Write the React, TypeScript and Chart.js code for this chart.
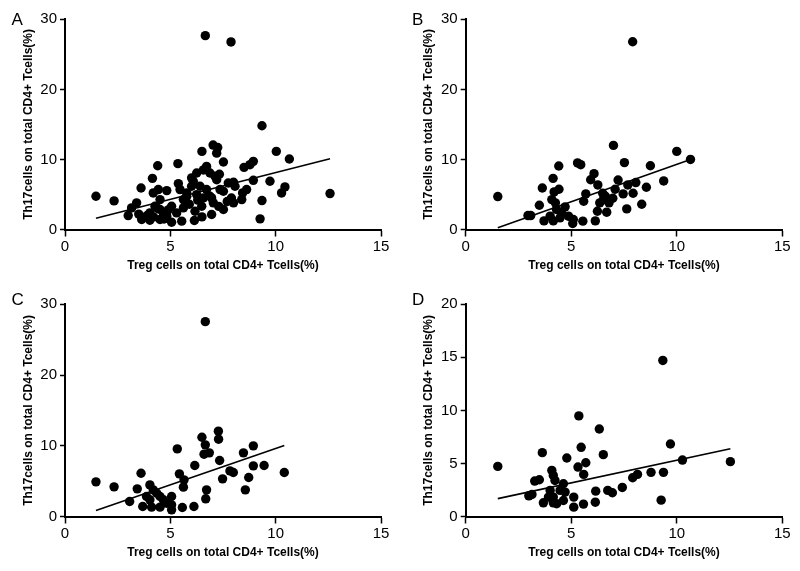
import React, { useEffect, useRef } from "react";
import { Chart, registerables } from "chart.js";

Chart.register(...registerables);

// ---------- data (Treg % on x, Th17 % on y) ----------
const tregA = [1.47, 2.33, 6.66, 7.88, 9.35, 7.03, 7.25, 6.5, 7.2, 10.03, 10.65, 4.4, 5.36, 7.52, 8.94, 8.78, 8.5, 6.72, 6.57, 6.25, 6.01, 4.15, 7.33, 7.2, 8.0, 8.94, 9.73, 3.61, 5.38, 5.46, 4.43, 4.83, 4.19, 6.41, 6.72, 7.52, 7.75, 8.07, 8.62, 10.44, 10.28, 12.58, 9.35, 9.26, 3.4, 3.16, 3.0, 4.51, 5.06, 5.62, 5.78, 6.25, 6.57, 6.88, 7.04, 6.49, 6.17, 6.96, 7.52, 8.0, 8.39, 8.43, 4.03, 4.51, 3.64, 4.03, 4.51, 4.83, 5.06, 5.54, 6.14, 4.27, 4.67, 5.3, 5.62, 6.96, 6.01, 6.09, 5.78, 7.36, 6.88, 7.12, 4.2, 4.7, 4.4, 3.9, 4.9, 3.5, 6.5, 7.3, 7.7, 7.9, 6.3, 5.9];
const th17A = [4.75, 4.08, 27.67, 26.77, 14.8, 12.05, 11.7, 11.15, 10.9, 11.15, 10.06, 9.1, 9.4, 9.63, 9.73, 9.25, 8.87, 9.0, 8.5, 8.07, 7.36, 7.3, 7.88, 7.1, 6.74, 7.02, 6.88, 5.93, 6.55, 5.7, 5.7, 5.55, 5.22, 6.17, 5.7, 5.46, 6.64, 6.17, 5.7, 6.08, 5.22, 5.13, 4.13, 1.52, 3.8, 3.08, 1.99, 4.27, 3.32, 4.27, 4.75, 4.98, 4.51, 4.75, 3.8, 3.32, 2.61, 2.14, 2.85, 3.8, 4.27, 5.22, 2.37, 2.85, 1.42, 1.33, 1.42, 1.9, 1.04, 1.19, 1.28, 3.32, 2.37, 2.37, 3.08, 4.51, 6.17, 6.88, 5.22, 5.7, 8.07, 7.6, 1.8, 1.5, 3.0, 2.0, 2.8, 2.2, 1.8, 3.3, 4.0, 4.5, 4.2, 3.6];

const tregB = [1.52, 7.91, 7.0, 10.0, 10.65, 4.41, 5.3, 5.45, 7.52, 8.75, 4.14, 6.08, 5.92, 6.26, 7.22, 8.06, 9.38, 3.63, 4.42, 4.19, 8.56, 7.68, 5.69, 5.59, 6.49, 7.08, 7.46, 7.93, 4.08, 4.25, 3.49, 3.08, 2.95, 3.71, 4.15, 4.55, 4.71, 4.47, 5.1, 5.07, 5.55, 6.14, 6.24, 6.68, 6.35, 6.79, 6.97, 7.63, 8.34, 6.62, 6.52, 4.87, 4.0, 4.3];
const th17B = [4.7, 26.8, 12.0, 11.15, 10.0, 9.06, 9.5, 9.25, 9.55, 9.1, 7.3, 7.97, 7.1, 6.36, 7.07, 6.7, 6.93, 5.93, 5.74, 5.36, 6.03, 6.36, 5.08, 4.03, 5.17, 5.74, 5.08, 5.17, 4.27, 3.8, 3.46, 1.99, 1.99, 1.23, 1.23, 2.37, 3.23, 1.66, 1.42, 0.85, 1.19, 1.23, 2.61, 2.47, 3.8, 3.8, 4.46, 2.94, 3.61, 4.75, 4.27, 1.9, 1.9, 2.85];

const tregC = [1.47, 2.33, 6.66, 7.28, 7.29, 6.5, 6.66, 5.33, 8.94, 8.47, 6.6, 6.85, 7.34, 6.16, 8.94, 9.45, 10.41, 3.61, 5.43, 7.83, 7.99, 7.48, 8.72, 5.65, 5.62, 3.43, 4.03, 8.56, 6.72, 6.68, 3.07, 4.19, 4.51, 4.35, 4.67, 5.06, 5.06, 4.03, 3.69, 4.11, 4.51, 5.57, 6.12, 5.06, 3.87, 4.83];
const th17C = [4.9, 4.19, 27.55, 12.06, 10.93, 11.2, 10.13, 9.56, 9.99, 9.0, 8.81, 9.0, 7.91, 7.21, 7.16, 7.21, 6.22, 6.12, 6.03, 6.45, 6.22, 5.32, 5.51, 5.18, 4.15, 3.91, 4.47, 3.77, 3.77, 2.5, 2.12, 3.77, 2.83, 3.3, 2.36, 2.83, 1.65, 2.36, 1.41, 1.32, 1.32, 1.27, 1.41, 0.94, 2.83, 1.88];

const tregD = [1.52, 9.34, 5.36, 6.33, 9.7, 5.47, 3.63, 4.79, 6.52, 5.69, 5.32, 5.59, 10.27, 12.54, 9.37, 8.78, 8.14, 7.91, 7.42, 6.95, 6.73, 6.16, 6.14, 5.58, 5.12, 5.12, 9.26, 3.27, 3.49, 2.99, 3.14, 3.68, 4.08, 4.15, 4.23, 4.63, 4.47, 4.0, 4.15, 4.15, 4.63, 4.71, 3.92, 4.31];
const th17D = [4.72, 14.71, 9.48, 8.25, 6.83, 6.52, 6.02, 5.51, 5.83, 5.07, 4.66, 3.97, 5.32, 5.17, 4.16, 4.16, 3.97, 3.65, 2.74, 2.24, 2.46, 2.39, 1.35, 1.17, 0.88, 1.83, 1.54, 3.34, 3.46, 1.95, 2.08, 1.29, 4.35, 3.87, 3.4, 3.09, 2.46, 2.46, 1.83, 1.29, 1.51, 2.3, 1.83, 1.2];

// regression lines (slope, intercept)
const fitA = [0.764, 0.49];
const fitB = [1.068, -1.38];
const fitC = [1.027, -0.66];
const fitD = [0.4256, 1.04];

const xTitle = "Treg cells on total CD4+ Tcells(%)";
const yTitle = "Th17cells on total CD4+ Tcells(%)";
const xTicks = [0, 5, 10, 15];
const yTicks30 = [0, 10, 20, 30];
const yTicks20 = [0, 5, 10, 15, 20];

type Box = { left: number; top: number; width: number; height: number };
type Plot = { left: number; top: number; right: number; bottom: number };

const FONT = "'Liberation Sans', Arial, sans-serif";

function Panel(props: {
  letter: string;
  treg: number[];
  th17: number[];
  fit: number[];
  yTicks: number[];
  box: Box;
  plot: Plot;
  letterPos: [number, number];
  xTitlePad: number;
}) {
  const ref = useRef<HTMLCanvasElement>(null);
  useEffect(() => {
    const { letter, treg, th17, fit, yTicks, box, plot, letterPos, xTitlePad } = props;
    const pts = treg.map((x, i) => ({ x, y: th17[i] }));
    const xmin = Math.min(...treg);
    const xmax = Math.max(...treg);
    const line = [
      { x: xmin, y: fit[0] * xmin + fit[1] },
      { x: xmax, y: fit[0] * xmax + fit[1] },
    ];
    const letterPlugin = {
      id: "panelLetter" + letter,
      afterDraw(chart: any) {
        const ctx = chart.ctx;
        ctx.save();
        ctx.fillStyle = "#000";
        ctx.font = `17px ${FONT}`;
        ctx.textBaseline = "alphabetic";
        ctx.textAlign = "left";
        ctx.fillText(letter, letterPos[0] - box.left, letterPos[1] - box.top);
        ctx.restore();
      },
    };
    const yStep = yTicks[1] - yTicks[0];
    const chart = new Chart(ref.current as HTMLCanvasElement, {
      type: "scatter",
      data: {
        datasets: [
          {
            type: "line",
            data: line,
            borderColor: "#000",
            borderWidth: 1.6,
            pointRadius: 0,
            fill: false,
            order: 0,
          } as any,
          {
            data: pts,
            pointRadius: 4.7,
            pointHoverRadius: 4.7,
            backgroundColor: "#000",
            borderColor: "#000",
            borderWidth: 0,
            order: 1,
          },
        ],
      },
      options: {
        responsive: false,
        animation: false,
        devicePixelRatio: 1,
        events: [],
        layout: {
          padding: {
            left: 0,
            top: plot.top - box.top,
            right: box.left + box.width - plot.right,
            bottom: 0,
          },
        },
        plugins: { legend: { display: false }, tooltip: { enabled: false } },
        scales: {
          x: {
            type: "linear",
            min: xTicks[0],
            max: xTicks[xTicks.length - 1],
            afterBuildTicks: (s: any) => {
              s.ticks = xTicks.map((v) => ({ value: v }));
            },
            ticks: {
              color: "#000",
              font: { family: FONT, size: 15 },
              padding: 1,
              maxRotation: 0,
            },
            grid: {
              drawOnChartArea: false,
              drawTicks: true,
              tickLength: 7,
              tickWidth: 1.5,
              tickColor: "#000",
            },
            border: { display: true, color: "#000", width: 2 },
            title: {
              display: true,
              text: xTitle,
              color: "#000",
              font: { family: FONT, size: 12, weight: "bold" },
              padding: { top: 0, bottom: xTitlePad },
            },
            afterFit: (s: any) => {
              s.height = box.top + box.height - plot.bottom;
            },
          },
          y: {
            type: "linear",
            min: yTicks[0],
            max: yTicks[yTicks.length - 1],
            afterBuildTicks: (s: any) => {
              s.ticks = yTicks.map((v) => ({ value: v }));
            },
            ticks: {
              color: "#000",
              font: { family: FONT, size: 15 },
              padding: 3,
              stepSize: yStep,
            },
            grid: {
              drawOnChartArea: false,
              drawTicks: true,
              tickLength: 5,
              tickWidth: 1.5,
              tickColor: "#000",
            },
            border: { display: true, color: "#000", width: 2 },
            title: {
              display: true,
              text: yTitle,
              color: "#000",
              font: { family: FONT, size: 12, weight: "bold" },
              padding: { top: 21.8, bottom: 0 },
            },
            afterFit: (s: any) => {
              s.width = plot.left - box.left;
            },
          },
        },
      },
      plugins: [letterPlugin],
    } as any);
    return () => chart.destroy();
  }, []);
  const { box } = props;
  return (
    <canvas
      ref={ref}
      width={box.width}
      height={box.height}
      style={{
        position: "absolute",
        left: box.left,
        top: box.top,
        width: box.width,
        height: box.height,
      }}
    />
  );
}

export default function App() {
  const topBoxL: Box = { left: 0, top: 0, width: 400, height: 275 };
  const topBoxR: Box = { left: 400, top: 0, width: 400, height: 275 };
  const botBoxL: Box = { left: 0, top: 280, width: 400, height: 291 };
  const botBoxR: Box = { left: 400, top: 280, width: 400, height: 291 };
  return (
    <div
      style={{
        position: "absolute",
        left: 0,
        top: 0,
        width: 800,
        height: 571,
        background: "#fff",
        overflow: "hidden",
      }}
    >
      <Panel
        letter="A"
        treg={tregA}
        th17={th17A}
        fit={fitA}
        yTicks={yTicks30}
        box={topBoxL}
        plot={{ left: 65, top: 19.3, right: 381, bottom: 229.5 }}
        letterPos={[11.5, 25]}
        xTitlePad={1.8}
      />
      <Panel
        letter="B"
        treg={tregB}
        th17={th17B}
        fit={fitB}
        yTicks={yTicks30}
        box={topBoxR}
        plot={{ left: 465.7, top: 19.3, right: 782.3, bottom: 229.5 }}
        letterPos={[412, 25]}
        xTitlePad={1.8}
      />
      <Panel
        letter="C"
        treg={tregC}
        th17={th17C}
        fit={fitC}
        yTicks={yTicks30}
        box={botBoxL}
        plot={{ left: 65, top: 304.3, right: 381, bottom: 516.5 }}
        letterPos={[11.5, 305]}
        xTitlePad={10.8}
      />
      <Panel
        letter="D"
        treg={tregD}
        th17={th17D}
        fit={fitD}
        yTicks={yTicks20}
        box={botBoxR}
        plot={{ left: 465.7, top: 304.3, right: 782.3, bottom: 516.5 }}
        letterPos={[412, 305]}
        xTitlePad={10.8}
      />
    </div>
  );
}
